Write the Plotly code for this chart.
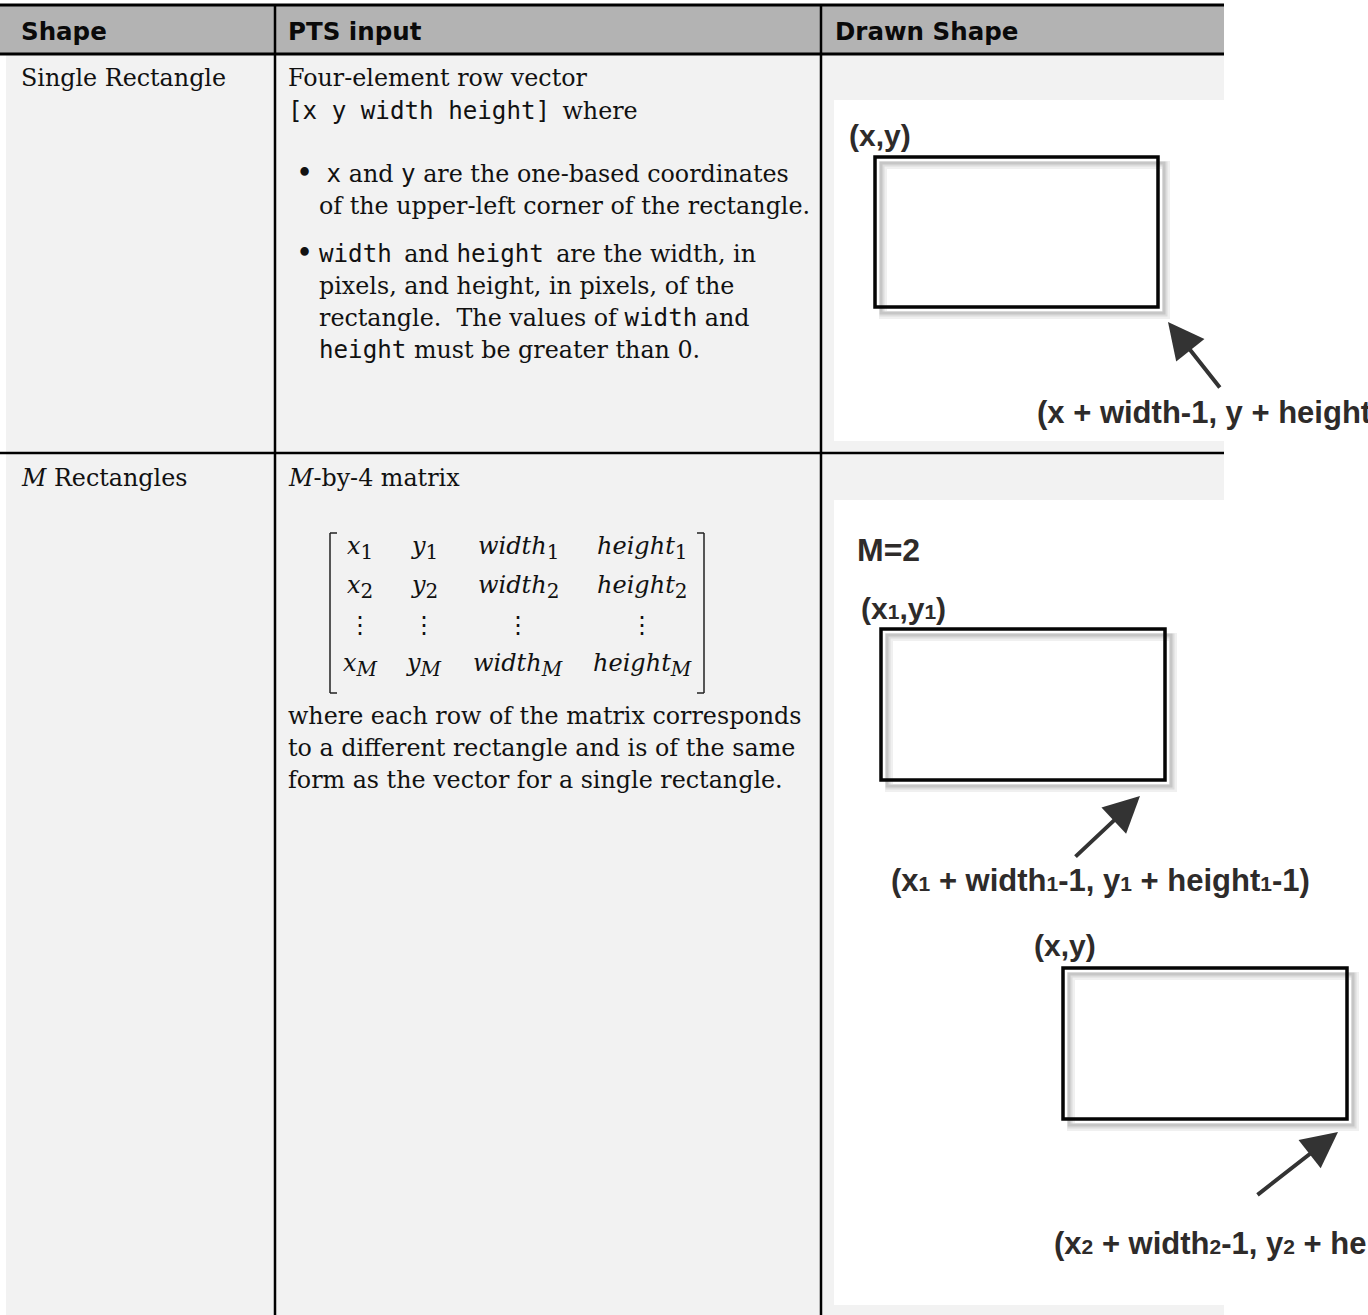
import plotly.graph_objects as go

W, H = 1368, 1315

# ---------------- content ----------------
COLUMN_HEADERS = ["Shape", "PTS input", "Drawn Shape"]
SHAPE_NAMES = ["Single Rectangle", "<i>M</i> Rectangles"]


def mono(s):
    return f"<span style=\"font-family:'DejaVu Sans Mono';font-size:24.2px\">{s}</span>"


TS = "\u2009"  # thin space used around inline code
ROW1_INTRO = ["Four-element row vector", mono("[x y width height]") + " " + TS + "where"]
ROW1_BULLET1 = [" " + mono("x") + " and " + mono("y") + " are the one-based coordinates",
                "of the upper-left corner of the rectangle."]
ROW1_BULLET2 = [mono("width") + TS + " and " + mono("height") + TS + " are the width, in",
                "pixels, and height, in pixels, of the",
                "rectangle.  The values of " + mono("width") + " and",
                mono("height") + " must be greater than 0."]
ROW2_INTRO = ["<i>M</i>-by-4 matrix"]
ROW2_OUTRO = ["where each row of the matrix corresponds",
              "to a different rectangle and is of the same",
              "form as the vector for a single rectangle."]
MATRIX_NAMES = ["x", "y", "width", "height"]
MATRIX_ROW_INDEX = ["1", "2", "⋮", "<i>M</i>"]


def small(s):
    return f"<span style=\"font-size:21px\">{s}</span>"


DIAGRAM_LABELS_ROW1 = ["(x,y)", "(x + width-1, y + height-1)"]
DIAGRAM_LABELS_ROW2 = ["M=2",
                       "(x" + small("1") + ",y" + small("1") + ")",
                       "(x" + small("1") + " + width" + small("1") + "-1, y" + small("1")
                       + " + height" + small("1") + "-1)",
                       "(x,y)",
                       "(x" + small("2") + " + width" + small("2") + "-1, y" + small("2")
                       + " + height" + small("2") + "-1)"]

# ---------------- layout constants ----------------
TABLE_RIGHT = 1224
COL_X = [6, 275, 821]
HEADER_TOP, HEADER_BOTTOM = 5, 54
ROW_DIV = 453
HEADER_BG = "#b3b3b3"
ROW_BG = "#f2f2f2"
SERIF = "DejaVu Serif"
SANS_BOLD = "DejaVu Sans"
DIAG_FONT = "Liberation Sans"
DIAG_COLOR = "#2e2b2a"
TEXT_SIZE = 23.8
LINE_H = 32

shapes = []
annotations = []


def rect(x0, y0, x1, y1, fill=None, color=None, width=0, layer="below"):
    shapes.append(dict(type="rect", xref="x", yref="y", x0=x0, y0=y0, x1=x1, y1=y1,
                       fillcolor=fill if fill else "rgba(0,0,0,0)",
                       line=dict(color=color if color else "rgba(0,0,0,0)", width=width),
                       layer=layer))


def line(x0, y0, x1, y1, color="black", width=2):
    shapes.append(dict(type="line", xref="x", yref="y", x0=x0, y0=y0, x1=x1, y1=y1,
                       line=dict(color=color, width=width), layer="above"))


def text(x, y, s, size=TEXT_SIZE, family=SERIF, color="#111111", xanchor="left"):
    if xanchor == "left":
        x -= 3
    annotations.append(dict(x=x, y=y, xref="x", yref="y", text=s, showarrow=False,
                            xanchor=xanchor, yanchor="middle", align="left",
                            font=dict(family=family, size=size, color=color)))


# backgrounds
rect(0, HEADER_TOP, TABLE_RIGHT, HEADER_BOTTOM, fill=HEADER_BG)
rect(COL_X[0], HEADER_BOTTOM, TABLE_RIGHT, H, fill=ROW_BG)
# white image insets in the "Drawn Shape" column
rect(834, 100, W, 441, fill="white")
rect(834, 500, W, 1305, fill="white")

# grid lines
line(0, HEADER_TOP, TABLE_RIGHT, HEADER_TOP, width=3)
line(0, HEADER_BOTTOM, TABLE_RIGHT, HEADER_BOTTOM, width=3)
line(0, ROW_DIV, TABLE_RIGHT, ROW_DIV, width=2.5)
line(COL_X[1], HEADER_TOP, COL_X[1], H, width=2.5)
line(COL_X[2], HEADER_TOP, COL_X[2], H, width=2.5)

# headers
for hx, h in zip([22, 289, 836], COLUMN_HEADERS):
    text(hx, 31, f"<b>{h}</b>", size=24.5, family=SANS_BOLD, color="#0a0a0a")

# column 1
text(22, 78, SHAPE_NAMES[0])
text(22, 478, SHAPE_NAMES[1])

# column 2, row 1
for i, s in enumerate(ROW1_INTRO):
    text(289, 78 + i * 33, s)
text(297, 173, "•", size=29)
for i, s in enumerate(ROW1_BULLET1):
    text(320, 174 + i * LINE_H, s)
text(297, 253, "•", size=29)
for i, s in enumerate(ROW1_BULLET2):
    text(320, 254 + i * LINE_H, s)

# column 2, row 2
text(289, 478, ROW2_INTRO[0])
col_centers = [360, 424, 518, 642]
row_centers = [548, 587, 625, 665]
for r, idx in enumerate(MATRIX_ROW_INDEX):
    for c, name in enumerate(MATRIX_NAMES):
        if idx == "⋮":
            s = "⋮"
        else:
            s = f"<i>{name}</i><sub><span style=\"font-size:20px\">{idx}</span></sub>"
        text(col_centers[c], row_centers[r], s, size=24, xanchor="center")
# matrix brackets
BR_TOP, BR_BOT = 533, 693
for bx, tick in [(330, 7), (704, -7)]:
    line(bx, BR_TOP, bx, BR_BOT, color="#222222", width=1.5)
    line(bx, BR_TOP, bx + tick, BR_TOP, color="#222222", width=1.5)
    line(bx, BR_BOT, bx + tick, BR_BOT, color="#222222", width=1.5)
for i, s in enumerate(ROW2_OUTRO):
    text(289, 716 + i * LINE_H, s)


# ---------------- drawn shapes ----------------
def drawn_rect(x0, y0, x1, y1):
    # soft drop shadow
    for off, w, a in [(8, 8, 0.06), (7, 5, 0.08), (6, 3, 0.10)]:
        rect(x0 + off, y0 + off, x1 + off, y1 + off, color=f"rgba(0,0,0,{a})", width=w, layer="above")
    rect(x0, y0, x1, y1, color="#050505", width=3.5, layer="above")


def arrow(tail, tip):
    annotations.append(dict(x=tip[0], y=tip[1], ax=tail[0], ay=tail[1], xref="x", yref="y",
                            axref="x", ayref="y", text="", showarrow=True, arrowhead=2,
                            arrowsize=1.8, arrowwidth=4, arrowcolor="#333333", standoff=0))


DIAG_SIZE = 31
# row 1 diagram
text(850, 135, f"<b>{DIAGRAM_LABELS_ROW1[0]}</b>", size=30, family=DIAG_FONT, color=DIAG_COLOR)
drawn_rect(875, 157, 1158, 307)
arrow((1221, 389), (1168, 322))
text(1038, 412, f"<b>{DIAGRAM_LABELS_ROW1[1]}</b>", size=DIAG_SIZE, family=DIAG_FONT, color=DIAG_COLOR)

# row 2 diagram
text(858, 550, f"<b>{DIAGRAM_LABELS_ROW2[0]}</b>", size=32, family=DIAG_FONT, color=DIAG_COLOR)
text(862, 608, f"<b>{DIAGRAM_LABELS_ROW2[1]}</b>", size=30, family=DIAG_FONT, color=DIAG_COLOR)
drawn_rect(881, 629, 1165, 780)
arrow((1074, 858), (1140, 796))
text(892, 880, f"<b>{DIAGRAM_LABELS_ROW2[2]}</b>", size=DIAG_SIZE, family=DIAG_FONT, color=DIAG_COLOR)
text(1035, 945, f"<b>{DIAGRAM_LABELS_ROW2[3]}</b>", size=30, family=DIAG_FONT, color=DIAG_COLOR)
drawn_rect(1063, 968, 1347, 1119)
arrow((1256, 1196), (1338, 1132))
text(1055, 1243, f"<b>{DIAGRAM_LABELS_ROW2[4]}</b>", size=DIAG_SIZE, family=DIAG_FONT, color=DIAG_COLOR)

fig = go.Figure()
fig.update_layout(
    width=W, height=H,
    margin=dict(l=0, r=0, t=0, b=0),
    paper_bgcolor="white", plot_bgcolor="white",
    xaxis=dict(range=[0, W], visible=False, fixedrange=True),
    yaxis=dict(range=[H, 0], visible=False, fixedrange=True),
    shapes=shapes,
    annotations=annotations,
    showlegend=False,
)
fig.write_html("out.html", config={"displayModeBar": False},
               post_script="document.body.style.margin='0';document.body.style.overflow='hidden';")
